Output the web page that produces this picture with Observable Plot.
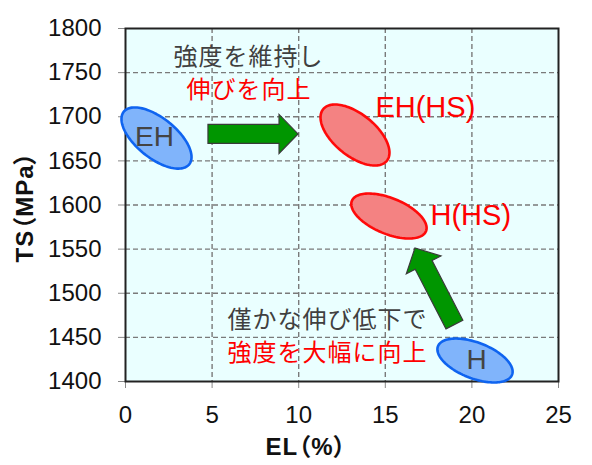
<!DOCTYPE html>
<html>
<head>
<meta charset="utf-8">
<script src="https://cdn.jsdelivr.net/npm/d3@7"></script>
<script src="https://cdn.jsdelivr.net/npm/@observablehq/plot@0.6"></script>
<style>
  html, body { margin: 0; padding: 0; background: #ffffff; }
</style>
</head>
<body>
<div id="chart"></div>
<script>
// ---- data ----
const xTicks = [0, 5, 10, 15, 20, 25];
const yTicks = [1400, 1450, 1500, 1550, 1600, 1650, 1700, 1750, 1800];

// ellipse regions: center, end of major semi-axis, end of minor semi-axis (EL %, TS MPa)
const regionNames  = ["EH", "EH(HS)", "H(HS)", "H"];
const regionGroup  = ["base", "hs", "hs", "base"];
const centerEL     = [1.79, 13.25, 15.21, 20.18];
const centerTS     = [1675.9, 1679.3, 1587.5, 1423.8];
const majorEndEL   = [3.68, 15.09, 17.35, 22.32];
const majorEndTS   = [1646.1, 1650.1, 1570.3, 1407.7];
const minorEndEL   = [1.07, 12.49, 14.82, 19.81];
const minorEndTS   = [1658.2, 1660.8, 1568.7, 1404.8];

// region labels
const regionLabelText = ["EH", "H", "EH(HS)", "H(HS)"];
const regionLabelEL   = [1.67, 20.27, 14.43, 17.61];
const regionLabelTS   = [1676.5, 1424, 1710.5, 1588];

// arrows: tail -> tip
const arrowFromEL = [4.79, 19.02];
const arrowFromTS = [1680, 1464];
const arrowToEL   = [9.99, 16.74];
const arrowToTS   = [1680, 1550.7];

// annotation texts
const noteText = ["強度を維持し", "伸びを向上", "僅かな伸び低下で", "強度を大幅に向上"];
const noteKind = ["gray", "red", "gray", "red"];
const noteEL   = [2.77, 3.52, 5.89, 5.89];
const noteTS   = [1767.5, 1729.5, 1469, 1432];

// ---- build tables ----
const ellipsePts = [];
regionNames.forEach((name, i) => {
  const ax = majorEndEL[i] - centerEL[i], ay = majorEndTS[i] - centerTS[i];
  const bx = minorEndEL[i] - centerEL[i], by = minorEndTS[i] - centerTS[i];
  for (let k = 0; k < 120; k++) {
    const t = (k / 120) * 2 * Math.PI;
    ellipsePts.push({
      name, group: regionGroup[i],
      EL: centerEL[i] + ax * Math.cos(t) + bx * Math.sin(t),
      TS: centerTS[i] + ay * Math.cos(t) + by * Math.sin(t)
    });
  }
});
const arrows = arrowFromEL.map((d, i) => ({x1: d, y1: arrowFromTS[i], x2: arrowToEL[i], y2: arrowToTS[i]}));
const notes = noteText.map((t, i) => ({t, kind: noteKind[i], EL: noteEL[i], TS: noteTS[i]}));
const labels = regionLabelText.map((t, i) => ({t, EL: regionLabelEL[i], TS: regionLabelTS[i]}));

// block arrow drawn in screen space from scaled endpoints
function blockArrows(data) {
  return Plot.dot(data, {
    x: "x1", y: "y1",
    render(index, scales, values, dims) {
      const g = d3.create("svg:g");
      const bodyHalf = 9.5, headHalf = 19.5, headLen = 19;
      for (const a of data) {
        const x1 = scales.x(a.x1), y1 = scales.y(a.y1);
        const x2 = scales.x(a.x2), y2 = scales.y(a.y2);
        const L = Math.hypot(x2 - x1, y2 - y1);
        const ux = (x2 - x1) / L, uy = (y2 - y1) / L;
        const nx = -uy, ny = ux;
        const bx = x2 - ux * headLen, by = y2 - uy * headLen;
        const pts = [
          [x1 + nx * bodyHalf, y1 + ny * bodyHalf],
          [bx + nx * bodyHalf, by + ny * bodyHalf],
          [bx + nx * headHalf, by + ny * headHalf],
          [x2, y2],
          [bx - nx * headHalf, by - ny * headHalf],
          [bx - nx * bodyHalf, by - ny * bodyHalf],
          [x1 - nx * bodyHalf, y1 - ny * bodyHalf]
        ];
        g.append("path")
          .attr("d", "M" + pts.map(p => p.join(",")).join("L") + "Z")
          .attr("fill", "#009600")
          .attr("stroke", "#3a3a3a")
          .attr("stroke-width", 1.2)
          .attr("stroke-linejoin", "miter");
      }
      return g.node();
    }
  });
}

function palt(index, scales, values, dims, ctx, next) {
  const g = next(index, scales, values, dims, ctx);
  g.style.fontFeatureSettings = "'palt'";
  g.style.letterSpacing = "1px";
  return g;
}
function spaced(index, scales, values, dims, ctx, next) {
  const g = next(index, scales, values, dims, ctx);
  g.style.letterSpacing = "1px";
  return g;
}

const chart = Plot.plot({
  width: 592,
  height: 465,
  marginLeft: 125,
  marginRight: 34,
  marginTop: 28,
  marginBottom: 84,
  style: {background: "#ffffff", fontFamily: "'Liberation Sans', Arial, sans-serif", color: "#111"},
  x: {domain: [0, 25]},
  y: {domain: [1400, 1800]},
  marks: [
    Plot.frame({fill: "#eaffff", stroke: null}),
    Plot.gridX(xTicks.slice(1, -1), {stroke: "#7a7a7a", strokeOpacity: 1, strokeWidth: 1.4, strokeDasharray: "5,3"}),
    Plot.gridY(yTicks.slice(1, -1), {stroke: "#7a7a7a", strokeOpacity: 1, strokeWidth: 1.4, strokeDasharray: "5,3"}),
    Plot.axisX({ticks: xTicks, tickFormat: d => String(d), tickSize: 7, tickPadding: 17, fontSize: 24, label: null, stroke: "#888", fill: "#111"}),
    Plot.axisY({ticks: yTicks, tickFormat: d => String(d), tickSize: 7, tickPadding: 17, fontSize: 24, label: null, stroke: "#888", fill: "#111"}),
    Plot.frame({stroke: "#222", strokeWidth: 2}),
    Plot.line(ellipsePts.filter(d => d.group === "base"), {x: "EL", y: "TS", z: "name", curve: "linear-closed", fill: "#80b4fb", stroke: "#0f64f0", strokeWidth: 2.6}),
    Plot.line(ellipsePts.filter(d => d.group === "hs"), {x: "EL", y: "TS", z: "name", curve: "linear-closed", fill: "#f48282", stroke: "#ff0a0a", strokeWidth: 2.6}),
    blockArrows(arrows),
    Plot.text(labels.slice(0, 2), {x: "EL", y: "TS", text: "t", fontSize: 28, fill: "#444", fontFamily: "'Liberation Sans', Arial, sans-serif"}),
    Plot.text(labels.slice(2), {x: "EL", y: "TS", text: "t", fontSize: 29, fill: "#ff0000", textAnchor: "start", fontFamily: "'Liberation Sans', Arial, sans-serif"}),
    Plot.text(notes.filter(d => d.kind === "gray"), {x: "EL", y: "TS", text: "t", fontSize: 24, fill: "#404040", textAnchor: "start", fontFamily: "'Noto Sans CJK JP', sans-serif", render: spaced}),
    Plot.text(notes.filter(d => d.kind === "red"), {x: "EL", y: "TS", text: "t", fontSize: 24, fill: "#ff0000", textAnchor: "start", fontFamily: "'Noto Sans CJK JP', sans-serif", render: spaced}),
    Plot.text(["EL（%）"], {frameAnchor: "bottom", textAnchor: "middle", lineAnchor: "middle", dx: -36, dy: 66, fontSize: 24, fontWeight: "bold", fill: "#111", fontFamily: "'Liberation Sans', 'Noto Sans CJK JP', sans-serif", render: palt}),
    Plot.text(["TS（MPa）"], {frameAnchor: "left", textAnchor: "middle", lineAnchor: "middle", rotate: -90, dx: -100, dy: 2, fontSize: 24, fontWeight: "bold", fill: "#111", fontFamily: "'Liberation Sans', 'Noto Sans CJK JP', sans-serif", render: palt})
  ]
});
document.getElementById("chart").appendChild(chart);
</script>
</body>
</html>
